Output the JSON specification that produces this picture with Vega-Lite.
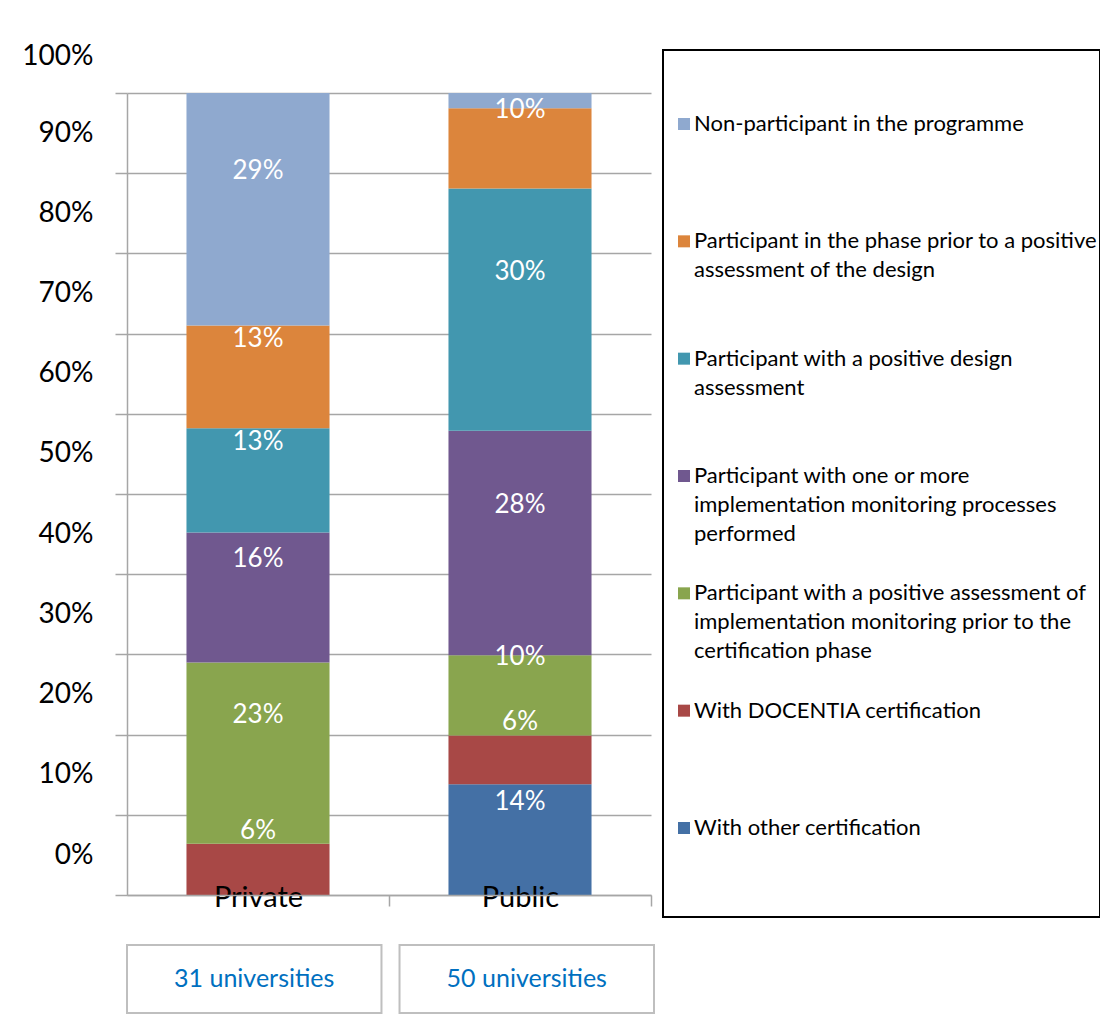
{
  "$schema": "https://vega.github.io/schema/vega-lite/v6.json",
  "padding": {"left": 21, "top": 42, "right": 0, "bottom": 0},
  "background": "white",
  "config": {"view": {"stroke": null}, "font": "Lato"},
  "datasets": {
    "bars": [
      {"sector": "Private", "series": "With DOCENTIA certification", "value": 0.064},
      {"sector": "Private", "series": "Participant with a positive assessment of implementation monitoring prior to the certification phase", "value": 0.226},
      {"sector": "Private", "series": "Participant with one or more implementation monitoring processes performed", "value": 0.162},
      {"sector": "Private", "series": "Participant with a positive design assessment", "value": 0.130},
      {"sector": "Private", "series": "Participant in the phase prior to a positive assessment of the design", "value": 0.128},
      {"sector": "Private", "series": "Non-participant in the programme", "value": 0.290},
      {"sector": "Public", "series": "With other certification", "value": 0.138},
      {"sector": "Public", "series": "With DOCENTIA certification", "value": 0.061},
      {"sector": "Public", "series": "Participant with a positive assessment of implementation monitoring prior to the certification phase", "value": 0.100},
      {"sector": "Public", "series": "Participant with one or more implementation monitoring processes performed", "value": 0.280},
      {"sector": "Public", "series": "Participant with a positive design assessment", "value": 0.302},
      {"sector": "Public", "series": "Participant in the phase prior to a positive assessment of the design", "value": 0.100},
      {"sector": "Public", "series": "Non-participant in the programme", "value": 0.019}
    ],
    "legend": [
      {"series": "Non-participant in the programme", "text": "Non-participant in the programme"},
      {"series": "Participant in the phase prior to a positive assessment of the design", "text": "Participant in the phase prior to a positive\nassessment of the design"},
      {"series": "Participant with a positive design assessment", "text": "Participant with a positive design\nassessment"},
      {"series": "Participant with one or more implementation monitoring processes performed", "text": "Participant with one or more\nimplementation monitoring processes\nperformed"},
      {"series": "Participant with a positive assessment of implementation monitoring prior to the certification phase", "text": "Participant with a positive assessment of\nimplementation monitoring prior to the\ncertification phase"},
      {"series": "With DOCENTIA certification", "text": "With DOCENTIA certification"},
      {"series": "With other certification", "text": "With other certification"}
    ],
    "counts": [
      {"sector": "Private", "universities": 31},
      {"sector": "Public", "universities": 50}
    ]
  },
  "vconcat": [
    {
      "hconcat": [
        {
          "width": 524,
          "height": 845,
          "data": {"name": "bars"},
          "transform": [
            {"calculate": "indexof(['With other certification','With DOCENTIA certification','Participant with a positive assessment of implementation monitoring prior to the certification phase','Participant with one or more implementation monitoring processes performed','Participant with a positive design assessment','Participant in the phase prior to a positive assessment of the design','Non-participant in the programme'], datum.series)", "as": "stackOrder"}
          ],
          "encoding": {
            "x": {
              "field": "sector",
              "type": "nominal",
              "scale": {"paddingInner": 0, "paddingOuter": 0},
              "axis": {
                "title": null,
                "labelAngle": 0,
                "tickBand": "extent",
                "tickSize": {"condition": {"test": "datum.value !== 'Private' && datum.value !== 'Public'", "value": -802}, "value": 11},
                "tickColor": "#A6A6A6",
                "tickWidth": 1.5,
                "domainColor": "#A6A6A6",
                "domainWidth": 1.5,
                "labelFontSize": 29,
                "labelFont": "Lato",
                "labelColor": "#000000",
                "labelBaseline": "middle",
                "labelPadding": -9,
                "zindex": 1
              }
            },
            "y": {
              "field": "value",
              "type": "quantitative",
              "stack": "zero",
              "scale": {"domain": [0, 1.0536], "nice": false},
              "axis": {
                "title": null,
                "values": [0, 0.1, 0.2, 0.3, 0.4, 0.5, 0.6, 0.7, 0.8, 0.9, 1],
                "format": ".0%",
                "grid": true,
                "gridColor": "#A6A6A6",
                "gridWidth": 1.5,
                "tickColor": "#A6A6A6",
                "tickWidth": 1.5,
                "tickSize": 12,
                "domain": false,
                "labelFontSize": 28,
                "labelFont": "Lato",
                "labelColor": "#000000",
                "labelPadding": 22,
                "labelOverlap": false,
                "labelOffset": {"condition": {"test": "datum.value === 1", "value": -36}, "value": -40},
                "zindex": 0
              }
            },
            "order": {"field": "stackOrder", "type": "quantitative"}
          },
          "layer": [
            {
              "mark": {"type": "bar", "width": {"band": 0.546}},
              "encoding": {
                "color": {
                  "field": "series",
                  "type": "nominal",
                  "sort": [
                    "With other certification",
                    "With DOCENTIA certification",
                    "Participant with a positive assessment of implementation monitoring prior to the certification phase",
                    "Participant with one or more implementation monitoring processes performed",
                    "Participant with a positive design assessment",
                    "Participant in the phase prior to a positive assessment of the design",
                    "Non-participant in the programme"
                  ],
                  "scale": {"range": ["#4470A5", "#A84846", "#89A54E", "#70588F", "#4297AF", "#DC853C", "#8FA9CF"]},
                  "legend": null
                }
              }
            },
            {
              "transform": [{"filter": "datum.value >= 0.05"}],
              "mark": {"type": "text", "color": "white", "fontSize": 26, "font": "Lato", "baseline": "middle", "dy": -38},
              "encoding": {
                "y": {"field": "value", "type": "quantitative", "stack": "zero", "bandPosition": 0.5},
                "detail": {"field": "series", "type": "nominal"},
                "text": {"field": "value", "type": "quantitative", "format": ".0%"}
              }
            }
          ]
        },
        {
          "width": 437,
          "height": 867,
          "data": {"name": "legend"},
          "view": {"stroke": "#000000", "strokeWidth": 2},
          "encoding": {
            "y": {
              "field": "series",
              "type": "nominal",
              "sort": null,
              "scale": {"type": "point", "padding": 0.6946, "align": 0.454},
              "axis": null
            }
          },
          "layer": [
            {
              "mark": {"type": "point", "shape": "square", "filled": true, "size": 144, "opacity": 1, "x": 21},
              "encoding": {
                "color": {
                  "field": "series",
                  "type": "nominal",
                  "sort": [
                    "With other certification",
                    "With DOCENTIA certification",
                    "Participant with a positive assessment of implementation monitoring prior to the certification phase",
                    "Participant with one or more implementation monitoring processes performed",
                    "Participant with a positive design assessment",
                    "Participant in the phase prior to a positive assessment of the design",
                    "Non-participant in the programme"
                  ],
                  "scale": {"range": ["#4470A5", "#A84846", "#89A54E", "#70588F", "#4297AF", "#DC853C", "#8FA9CF"]},
                  "legend": null
                }
              }
            },
            {
              "mark": {"type": "text", "align": "left", "baseline": "middle", "x": 31, "fontSize": 22, "font": "Lato", "color": "#000000", "lineBreak": "\n", "lineHeight": 29},
              "encoding": {"text": {"field": "text", "type": "nominal"}}
            }
          ]
        }
      ],
      "spacing": 10
    },
    {
      "width": 527,
      "height": 68,
      "data": {"name": "counts"},
      "transform": [{"calculate": "datum.universities + ' universities'", "as": "label"}],
      "encoding": {
        "x": {
          "field": "sector",
          "type": "nominal",
          "scale": {"paddingInner": 0.0662, "paddingOuter": 0},
          "axis": null
        }
      },
      "layer": [
        {"mark": {"type": "rect", "fill": "white", "stroke": "#BFBFBF", "strokeWidth": 2}},
        {"mark": {"type": "text", "color": "#0070C0", "fontSize": 25, "font": "Lato", "baseline": "middle"}, "encoding": {"text": {"field": "label", "type": "nominal"}}}
      ]
    }
  ],
  "spacing": 26
}
